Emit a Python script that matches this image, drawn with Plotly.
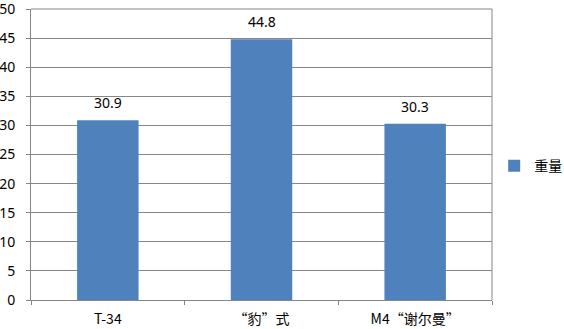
import plotly.graph_objects as go

categories = ["T-34", "“豹”式", "M4“谢尔曼”"]
weights = [30.9, 44.8, 30.3]
series_name = "重量"
y_ticks = [0, 5, 10, 15, 20, 25, 30, 35, 40, 45, 50]

font_family = "Noto Sans, Noto Sans CJK SC, sans-serif"
cjk_family = "Noto Sans CJK SC, Noto Sans, sans-serif"

fig = go.Figure()
fig.add_trace(go.Bar(
    x=categories, y=weights, name=series_name,
    marker=dict(color="#4f81bd", line=dict(width=0)),
    cliponaxis=False,
))
for c, v in zip(categories, weights):
    fig.add_annotation(x=c, y=v, text=f"{v:.1f}", showarrow=False,
                       yanchor="bottom", yshift=6,
                       font=dict(size=14, color="#000000", family=font_family))
fig.update_layout(
    width=564, height=329,
    margin=dict(l=31, r=0, t=9, b=29, autoexpand=False),
    paper_bgcolor="white", plot_bgcolor="white",
    bargap=0.6,
    showlegend=True,
    legend=dict(x=0.869, y=0.46, xanchor="left", yanchor="middle",
                font=dict(size=14, color="#000000", family=cjk_family),
                itemwidth=30, bgcolor="rgba(0,0,0,0)"),
    font=dict(family=font_family, size=14, color="#000000"),
    xaxis=dict(domain=[0, 461 / 533], showline=True, linecolor="#868686", linewidth=1,
               ticks="outside", ticklen=4, tickcolor="#868686", tickson="boundaries",
               ticklabelstandoff=6,
               tickfont=dict(size=14, color="#000000", family=cjk_family), showgrid=False),
    yaxis=dict(range=[0, 50], tickvals=y_ticks, showline=True, linecolor="#868686",
               linewidth=1, ticks="outside", ticklen=4, tickcolor="#868686",
               ticklabelstandoff=8, ticklabeloverflow="allow",
               gridcolor="#868686", gridwidth=1, zeroline=False,
               tickfont=dict(size=14, color="#000000")),
)
fig.add_shape(type="line", xref="x domain", yref="y domain", x0=1, x1=1, y0=0, y1=1,
              line=dict(color="#868686", width=1))
fig.add_shape(type="line", xref="x domain", yref="y domain", x0=0, x1=1, y0=1, y1=1,
              line=dict(color="#868686", width=1))
fig.write_html("out.html")
